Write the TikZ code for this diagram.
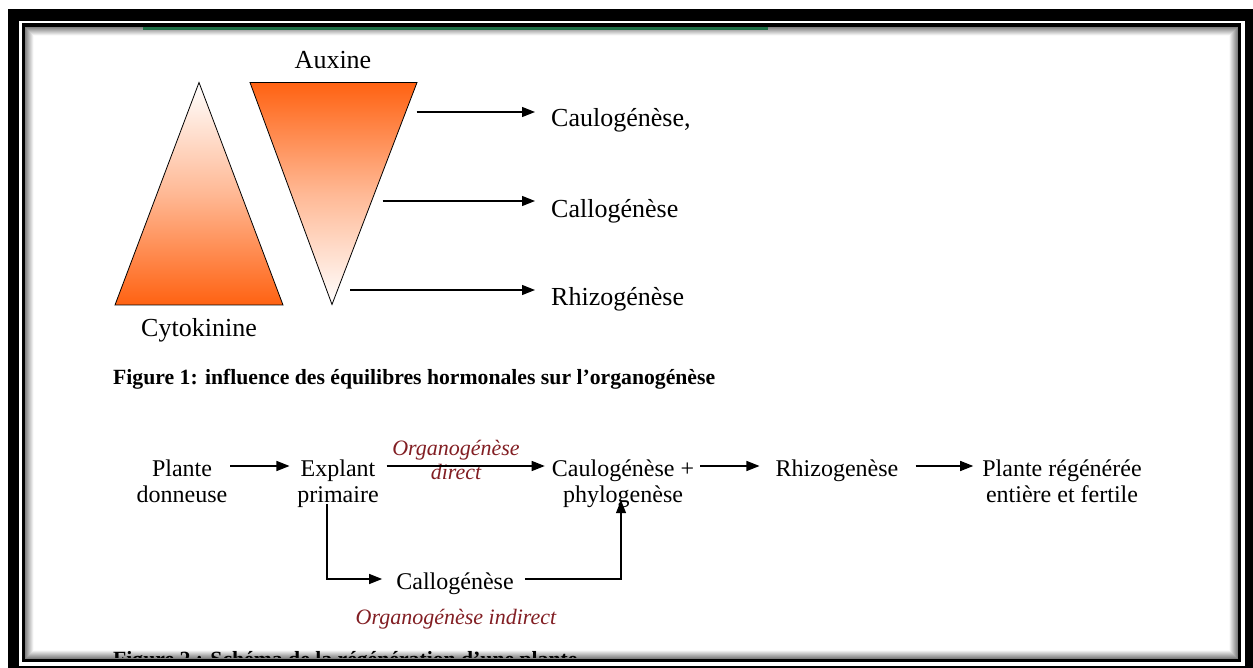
\documentclass[tikz,border=0pt]{standalone}
\usepackage{fontspec}
\setmainfont{Liberation Serif}
\usetikzlibrary{arrows.meta,calc}
\definecolor{org}{RGB}{255,98,18}
\definecolor{lbl}{RGB}{130,30,35}
\definecolor{grn}{RGB}{30,110,70}
\begin{document}
\begin{tikzpicture}[x=1pt,y=-1pt,
  big/.style={font=\fontsize{26}{30}\selectfont, inner sep=0pt},
  txt/.style={font=\fontsize{24}{27}\selectfont, inner sep=0pt, text height=22pt, text depth=2pt},
  lab/.style={font=\fontsize{22}{25}\selectfont\itshape, text=lbl, inner sep=0pt},
  capt/.style={font=\fontsize{21.7}{25}\selectfont\bfseries, inner sep=0pt, anchor=base west},
  arr/.style={line width=1.3pt, -{Triangle[length=13pt,width=10pt]}},
  tri/.style={draw=black, line width=0.8pt}
  ]
\useasboundingbox (0,0) rectangle (1253,668);
% frame
\fill[white] (0,0) rectangle (1253,668);
\fill[black] (8,9) rectangle (1253,668);
\fill[white] (19,21) rectangle (1245,666);
\fill[black] (22,23) rectangle (1241,662);
\foreach \i in {0,...,8} {
  \pgfmathsetmacro\g{50-6*\i}
  \fill[black!\g] (25+\i,27+\i) rectangle (1238-\i,659-\i);
}
\fill[white] (34,36) rectangle (1229,650);
\fill[grn] (143,27) rectangle (768,30);
\begin{scope}
  \clip (25,27) rectangle (1238,657);
  \node[capt] (fig2) at (113,666) {Figure 2 : Schéma de la régénération d'une plante};
\end{scope}

% triangles
\coordinate (cA) at (199,82.5);
\coordinate (cL) at (115,305);
\coordinate (cR) at (283,305);
\shadedraw[tri, top color=white, bottom color=org, middle color=org!45!white] (cA) -- (cR) -- (cL) -- cycle;
\coordinate (aL) at (250,82.5);
\coordinate (aR) at (417,82.5);
\coordinate (aB) at (332,304.5);
\shadedraw[tri, top color=org, bottom color=white, middle color=org!45!white] (aL) -- (aR) -- (aB) -- cycle;

\node[big, anchor=base] (aux) at (333,68.5) {Auxine};
\node[big, anchor=base] (cyto) at (199,336.5) {Cytokinine};

\coordinate (e1) at ($(aR)!0.1329!(aB)$);
\coordinate (e2) at ($(aR)!0.5338!(aB)$);
\coordinate (e3) at ($(aR)!0.9347!(aB)$);
\node[big, anchor=base west] (t1) at (551,126.5) {Caulogénèse,};
\node[big, anchor=base west] (t2) at (551,217.5) {Callogénèse};
\node[big, anchor=base west] (t3) at (551,305.5) {Rhizogénèse};
\draw[arr, shorten <=11pt, shorten >=16pt] (e1) -- (e1 -| t1.west);
\draw[arr, shorten <=11pt, shorten >=16pt] (e2) -- (e2 -| t2.west);
\draw[arr, shorten <=12.5pt, shorten >=16pt] (e3) -- (e3 -| t3.west);

\node[capt] (fig1) at (113,384) {Figure 1: influence des équilibres hormonales sur l'organogénèse};

% scheme
\node[txt, anchor=base] (pl1) at (182,476) {Plante};
\node[txt, anchor=base] (pl2) at (182,502) {donneuse};
\node[txt, anchor=base] (ex1) at (338,476) {Explant};
\node[txt, anchor=base] (ex2) at (338,502) {primaire};
\node[txt, anchor=base] (ca1) at (623,476) {Caulogénèse +};
\node[txt, anchor=base] (ca2) at (623,502) {phylogenèse};
\node[txt, anchor=base] (rh) at (837,476) {Rhizogenèse};
\node[txt, anchor=base] (pr1) at (1062,476) {Plante régénérée};
\node[txt, anchor=base] (pr2) at (1062,502) {entière et fertile};
\node[txt, anchor=base] (cal) at (455,589) {Callogénèse};
\node[lab, anchor=base] (od1) at (456,455) {Organogénèse};
\node[lab, anchor=base] (od2) at (456,479) {direct};
\node[lab, anchor=base] (oi) at (456,624) {Organogénèse indirect};

\draw[arr, shorten <=18pt, shorten >=11pt] (pl1.east) -- (ex1.west);
\draw[arr, shorten <=11pt, shorten >=7pt] (ex1.east) -- (ca1.west);
\draw[arr, shorten <=6pt, shorten >=16pt] (ca1.east) -- (rh.west);
\draw[arr, shorten <=17pt, shorten >=9pt] (rh.east) -- (pr1.west);
\draw[arr, shorten >=14pt] ([xshift=-11pt]ex2.south) |- (cal.west);
\draw[arr, shorten <=11pt, shorten >=-4pt] (cal.east) -| ([xshift=-2pt]ca2.south);
\end{tikzpicture}
\end{document}
